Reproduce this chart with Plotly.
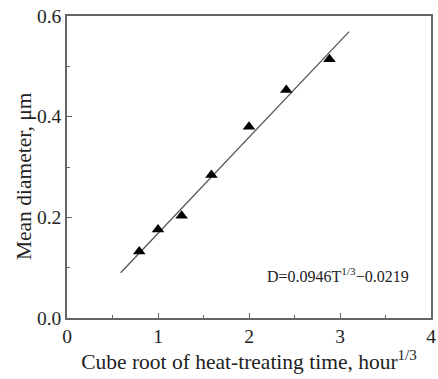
import plotly.graph_objects as go

# data
x_pts = [0.794, 1.0, 1.26, 1.587, 2.0, 2.41, 2.884]
y_pts = [0.132, 0.176, 0.203, 0.284, 0.380, 0.453, 0.514]
fit_x = [0.59, 3.1]
fit_y = [0.090, 0.569]
x_ticks = [0, 1, 2, 3, 4]
y_ticks = [0.0, 0.2, 0.4, 0.6]

font = "Liberation Serif"
fig = go.Figure()
fig.add_trace(go.Scatter(x=fit_x, y=fit_y, mode="lines",
                         line=dict(color="#555", width=1.3), showlegend=False))
fig.add_trace(go.Scatter(x=x_pts, y=y_pts, mode="markers",
                         marker=dict(symbol="triangle-up", size=11, color="black"),
                         showlegend=False))
fig.add_annotation(x=3.78, y=0.085, xref="x", yref="y", xanchor="right", yanchor="middle",
                   text="D=0.0946T<sup>1/3</sup>\u22120.0219", showarrow=False,
                   font=dict(family=font, size=16, color="#222"))
fig.add_annotation(x=-0.118, y=0.47, xref="paper", yref="paper", xanchor="center", yanchor="middle",
                   text="Mean diameter, \u03bcm", textangle=-90, showarrow=False,
                   font=dict(family=font, size=21.5, color="#222"))

axis_common = dict(showline=True, linecolor="#666", linewidth=1.5, mirror=True,
                   ticks="inside", ticklen=5, tickcolor="#666", tickwidth=1.2,
                   showgrid=False, zeroline=False, ticklabeloverflow="allow",
                   tickfont=dict(family=font, size=19.5, color="#222"))
fig.update_xaxes(range=[0, 4], tickvals=x_ticks, ticktext=[str(v) for v in x_ticks],
                 minor=dict(ticks="inside", ticklen=3, tickcolor="#666", dtick=0.5, tick0=0),
                 title=dict(text="Cube root of heat-treating time, hour<sup>1/3</sup>",
                            font=dict(family=font, size=21.5, color="#222"), standoff=6),
                 **axis_common)
fig.update_yaxes(range=[0, 0.6], tickvals=y_ticks, ticktext=[f"{v:.1f}" for v in y_ticks],
                 minor=dict(ticks="inside", ticklen=3, tickcolor="#666", dtick=0.1, tick0=0),
                 **axis_common)
fig.update_layout(width=438, height=379, margin=dict(l=67, r=2, t=16, b=61),
                  paper_bgcolor="white", plot_bgcolor="white")
fig.write_html("out.html")
